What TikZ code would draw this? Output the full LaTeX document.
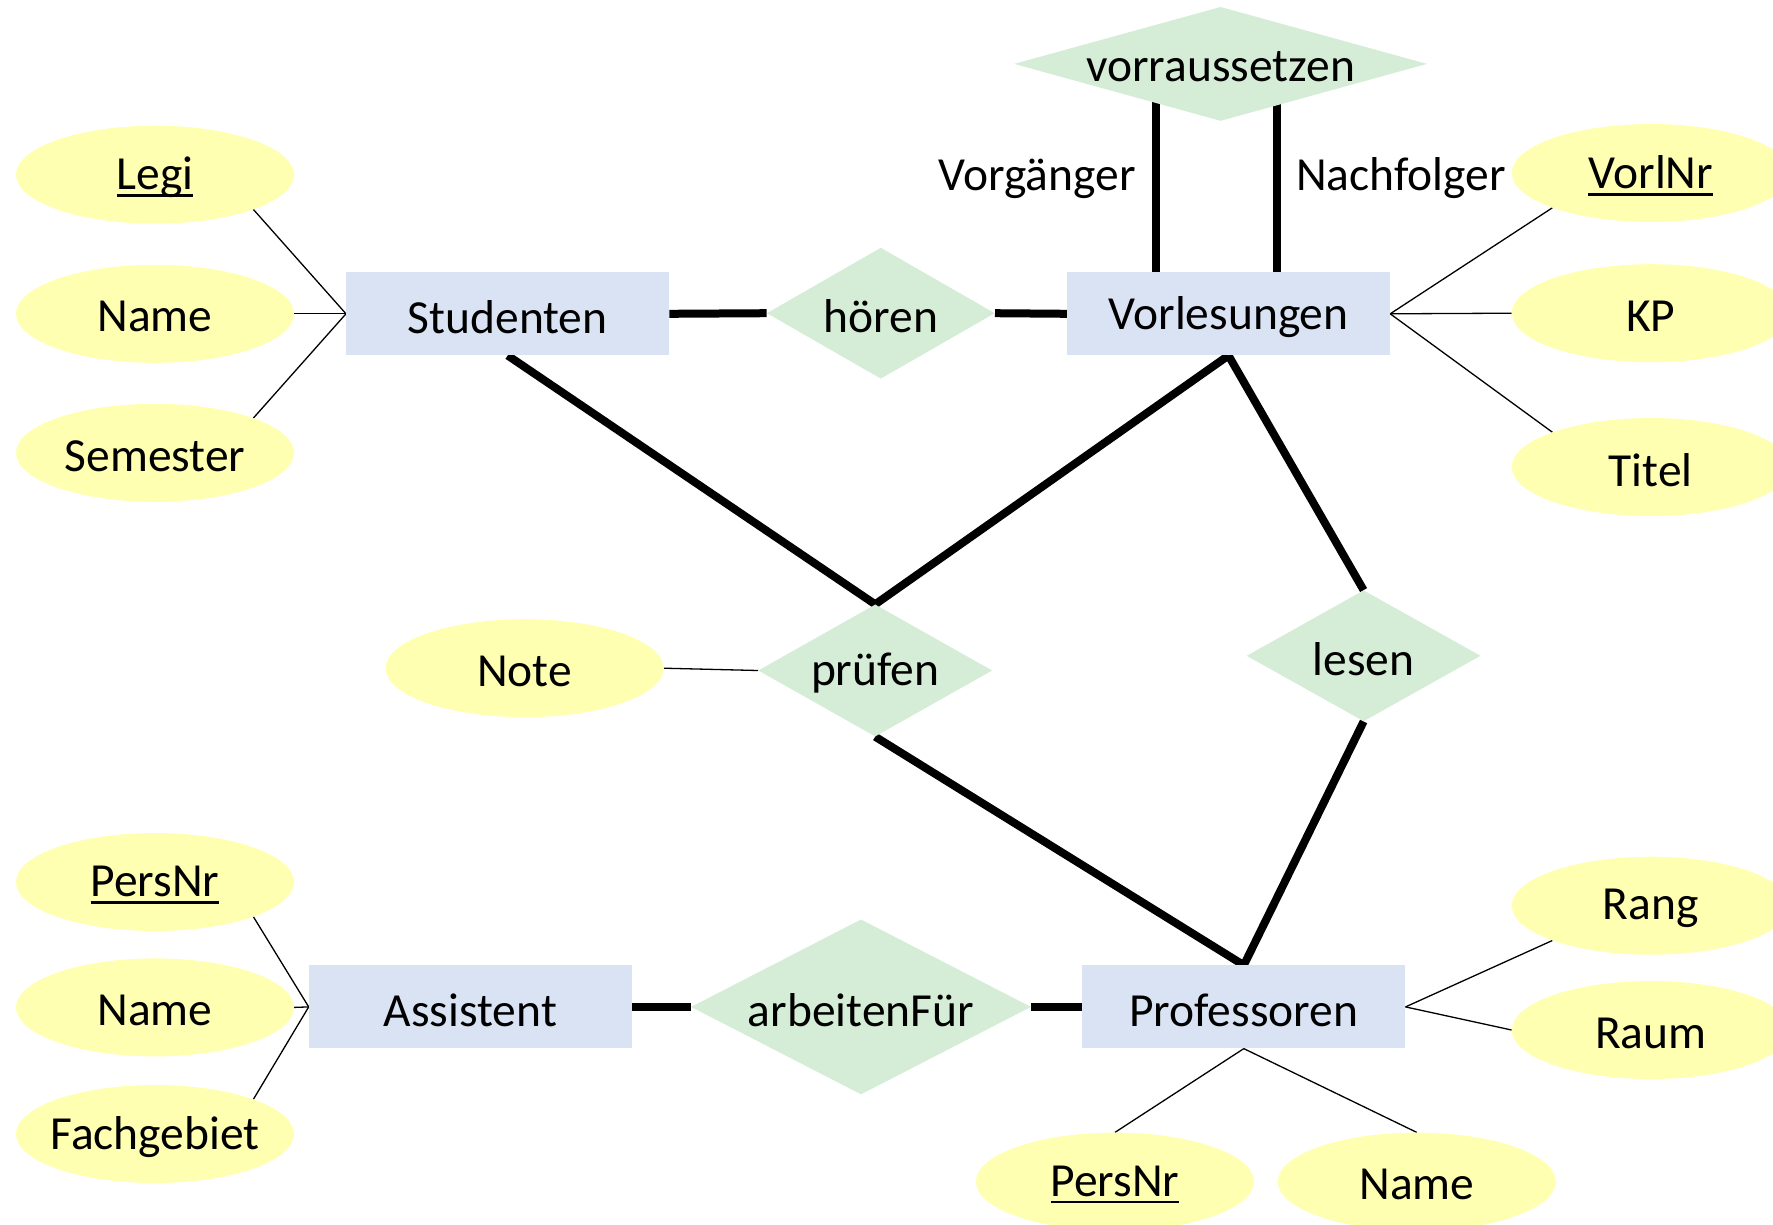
\documentclass[tikz,border=0pt]{standalone}
\usepackage{fontspec}
\setmainfont{Carlito}
\usetikzlibrary{shapes.geometric,backgrounds}
\definecolor{attrfill}{RGB}{255,255,178}
\definecolor{relfill}{RGB}{213,237,214}
\definecolor{entfill}{RGB}{218,227,243}
\newcommand{\keyattr}[1]{\setbox0\hbox{#1}\rlap{\rule[-7pt]{\wd0}{2.6pt}}\box0}
\begin{document}
\begin{tikzpicture}[x=1pt,y=-1pt,
  font=\fontsize{47.5}{56}\selectfont,
  every label/.append style={yshift=-3pt},
  attr/.style={ellipse,fill=attrfill,inner sep=0pt,minimum width=278pt,minimum height=98pt},
  ent/.style={rectangle,fill=entfill,inner sep=0pt,minimum width=323pt,minimum height=83pt},
  rel/.style={diamond,fill=relfill,inner sep=0pt},
  plain/.style={inner sep=0pt},
  strong/.style={line width=8pt},
  weak/.style={line width=1.3pt}]
\useasboundingbox (0,0) rectangle (1773,1224);

% entities
\node[ent,label=center:{Studenten}] (stud) at (507.7,313.8) {};
\node[ent,label=center:{Vorlesungen}] (vorl) at (1228.5,313.8) {};
\node[ent,label=center:{Assistent}] (assi) at (470.4,1006.9) {};
\node[ent,label=center:{Professoren}] (prof) at (1243.8,1006.9) {};

% relationships
\node[rel,minimum width=228pt,minimum height=131pt,label=center:{hören}] (hoeren) at (880.8,313.2) {};
\node[rel,minimum width=413pt,minimum height=114pt,label=center:{vorraussetzen}] (vor) at (1220.6,63.9) {};
\node[rel,minimum width=234pt,minimum height=132pt,label=center:{prüfen}] (pruef) at (875.2,670.5) {};
\node[rel,minimum width=234pt,minimum height=131pt,label=center:{lesen}] (lesen) at (1363.6,655.8) {};
\node[rel,minimum width=340pt,minimum height=175pt,label=center:{arbeitenFür}] (arb) at (861,1006.9) {};

% attributes
\node[attr,label=center:{\keyattr{Legi}}] (legi) at (155,174.7) {};
\node[attr,label=center:{Name}] (sname) at (155,313.8) {};
\node[attr,label=center:{Semester}] (sem) at (155,452.8) {};
\node[attr,label=center:{\keyattr{VorlNr}}] (vnr) at (1650.8,173) {};
\node[attr,label=center:{KP}] (kp) at (1650.8,313.2) {};
\node[attr,label=center:{Titel}] (titel) at (1650.8,467) {};
\node[attr,label=center:{Note}] (note) at (524.6,668.2) {};
\node[attr,label=center:{\keyattr{PersNr}}] (apnr) at (155,882) {};
\node[attr,label=center:{Name}] (aname) at (155,1007.4) {};
\node[attr,label=center:{Fachgebiet}] (fach) at (155,1134) {};
\node[attr,label=center:{Rang}] (rang) at (1650.8,905.7) {};
\node[attr,label=center:{Raum}] (raum) at (1650.8,1030) {};
\node[attr,label=center:{\keyattr{PersNr}}] (ppnr) at (1114.9,1181.6) {};
\node[attr,label=center:{Name}] (pname) at (1416.8,1181.6) {};

% role labels
\node[plain] (vorg) at (1036.9,178.5) {Vorgänger};
\node[plain] (nachf) at (1400.9,178.5) {Nachfolger};

\begin{scope}[on background layer]
  % thick relationship connectors
  \draw[strong] (stud.east) -- (hoeren.west);
  \draw[strong] (hoeren.east) -- (vorl.west);
  \draw[strong] ([xshift=-73pt]vorl.north) -- ([xshift=-73pt]vorl.north |- vor.center);
  \draw[strong] ([xshift=48pt]vorl.north) -- ([xshift=48pt]vorl.north |- vor.center);
  \draw[strong] (stud.south) -- (pruef.north);
  \draw[strong] (vorl.south) -- (pruef.north);
  \draw[strong] (vorl.south) -- (lesen.north);
  \draw[strong] (pruef.south) -- (prof.north);
  \draw[strong] (lesen.south) -- (prof.north);
  \draw[strong] (assi.east) -- (arb.west);
  \draw[strong] (arb.east) -- (prof.west);
  % thin attribute connectors
  \draw[weak] (stud.west) -- (legi.south east);
  \draw[weak] (stud.west) -- (sname.east);
  \draw[weak] (stud.west) -- (sem.north east);
  \draw[weak] (vorl.east) -- (vnr.south west);
  \draw[weak] (vorl.east) -- (kp.west);
  \draw[weak] (vorl.east) -- (titel.north west);
  \draw[weak] (note.east) -- (pruef.west);
  \draw[weak] (assi.west) -- (apnr.south east);
  \draw[weak] (assi.west) -- (aname.east);
  \draw[weak] (assi.west) -- (fach.north east);
  \draw[weak] (prof.east) -- (rang.south west);
  \draw[weak] (prof.east) -- (raum.west);
  \draw[weak] (prof.south) -- (ppnr.north);
  \draw[weak] (prof.south) -- (pname.north);
\end{scope}
\end{tikzpicture}
\end{document}
